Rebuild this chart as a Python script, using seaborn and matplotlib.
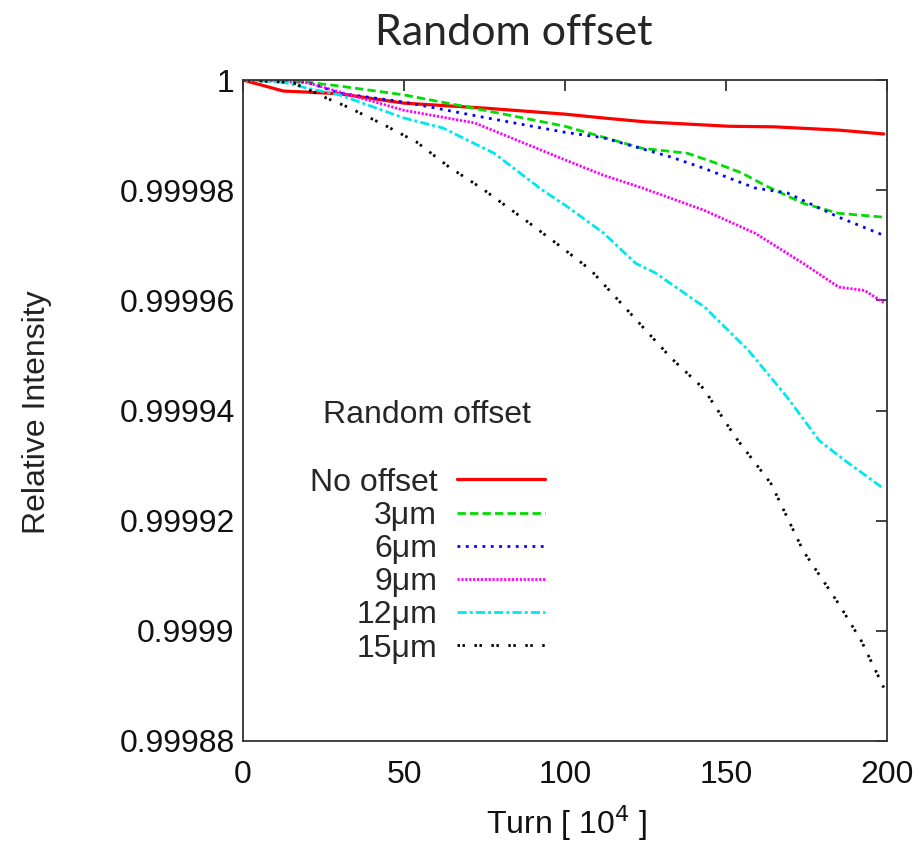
import numpy as np
import pandas as pd
import matplotlib
matplotlib.use("Agg")
import matplotlib.pyplot as plt
import seaborn as sns

# ---- data (intensity loss in units of 1e-5) ----
turn_none = [0, 12.5, 20, 30, 50, 75, 100, 112, 125, 151, 165, 185, 199]
loss_none = [0.0, 0.2, 0.22, 0.25, 0.42, 0.51, 0.62, 0.69, 0.76, 0.84, 0.85, 0.91, 0.98]

turn_3 = [0, 10, 20, 30, 50, 75, 100, 112, 124, 138, 146, 155, 162, 174, 185, 199]
loss_3 = [0.0, 0.0, 0.04, 0.11, 0.27, 0.55, 0.84, 1.04, 1.24, 1.33, 1.49, 1.69, 1.91, 2.24, 2.42, 2.49]

turn_6 = [0, 10, 20, 30, 50, 75, 100, 112, 133, 143, 159, 169, 185, 199]
loss_6 = [0.0, 0.0, 0.04, 0.24, 0.40, 0.68, 0.95, 1.05, 1.40, 1.60, 1.96, 2.05, 2.49, 2.82]

turn_9 = [0, 10, 20, 35, 50, 72, 100, 112, 124, 143, 159, 174, 185, 193, 199]
loss_9 = [0.0, 0.02, 0.05, 0.30, 0.55, 0.78, 1.45, 1.73, 1.96, 2.36, 2.78, 3.33, 3.76, 3.82, 4.04]

turn_12 = [0, 12.5, 20, 30, 50, 62, 78, 93, 100, 112, 122, 128, 143.5, 157, 169, 179, 187, 199]
loss_12 = [0.0, 0.04, 0.15, 0.27, 0.69, 0.87, 1.33, 2.0, 2.27, 2.78, 3.33, 3.5, 4.13, 4.91, 5.76, 6.55, 6.91, 7.42]

turn_15 = [0, 15.6, 26, 32.5, 44, 54, 64, 74, 89, 99, 108, 133, 143, 153, 164, 174, 185, 192, 199]
loss_15 = [0.0, 0.05, 0.33, 0.49, 0.82, 1.13, 1.58, 1.96, 2.6, 3.04, 3.45, 5.05, 5.6, 6.49, 7.33, 8.55, 9.51, 10.18, 11.03]

series_labels = ["No offset", "3\u03bcm", "6\u03bcm", "9\u03bcm", "12\u03bcm", "15\u03bcm"]
series_turns = [turn_none, turn_3, turn_6, turn_9, turn_12, turn_15]
series_loss = [loss_none, loss_3, loss_6, loss_9, loss_12, loss_15]

xticks = [0, 50, 100, 150, 200]
yticks = [0.99988, 0.9999, 0.99992, 0.99994, 0.99996, 0.99998, 1.0]
ytick_labels = ["0.99988", "0.9999", "0.99992", "0.99994", "0.99996", "0.99998", "1"]

# ---- build long table ----
rows = []
for lab, t, l in zip(series_labels, series_turns, series_loss):
    for ti, li in zip(t, l):
        rows.append({"turn": ti, "intensity": 1.0 - li * 1e-5, "series": lab})
df = pd.DataFrame(rows)

# ---- styling ----
sns.set_theme(style="white")
plt.rcParams["font.family"] = ["Liberation Sans", "DejaVu Sans"]

colors = ["#ff0000", "#00dd00", "#0000ff", "#ff00ff", "#00e8ee", "#000000"]
palette = dict(zip(series_labels, colors))
dash_list = ["", (3, 1.5), (1, 2), (0.8, 0.6), (3.3, 1.1, 1.1, 1.1), (0.9, 0.9, 0.9, 3.4)]
dashes = dict(zip(series_labels, dash_list))

fig = plt.figure(figsize=(9.23, 8.42), dpi=100)
ax = fig.add_axes([243 / 923, 1 - 741 / 842, (887 - 243) / 923, (741 - 80) / 842])

sns.lineplot(data=df, x="turn", y="intensity", hue="series", style="series",
             hue_order=series_labels, style_order=series_labels,
             palette=palette, dashes=dashes, estimator=None, sort=True,
             linewidth=2.0, legend=False, ax=ax)

lines = ax.get_lines()[:6]
lines[0].set_linewidth(2.3)

ax.set_xlim(0, 200)
ax.set_ylim(0.99988, 1.0)
ax.set_xticks(xticks)
ax.set_xticklabels([str(v) for v in xticks])
ax.set_yticks(yticks)
ax.set_yticklabels(ytick_labels)

for s in ax.spines.values():
    s.set_color("#333333")
    s.set_linewidth(1.3)
    s.set_visible(True)

ax.tick_params(axis="both", which="major", direction="in", length=8, width=1.3,
               color="#333333", top=True, right=True, labelsize=23,
               labelcolor="#111111")
ax.tick_params(axis="y", pad=6)
ax.tick_params(axis="x", pad=14)

ax.set_xlabel("Turn [ 10$^{4}$ ]", fontsize=23, color="#111111")
ax.set_ylabel("Relative Intensity", fontsize=23, color="#222222")
ax.xaxis.set_label_coords((567 - 243) / 644, (741 - 803) / 661)
ax.yaxis.set_label_coords((52 - 243) / 644, (741 - 412) / 661)

leg = ax.legend(lines, series_labels, title="Random offset\n", markerfirst=False,
                frameon=False, loc="upper right", bbox_to_anchor=(0.504, 0.55),
                fontsize=23, title_fontsize=23, handlelength=2.75,
                handletextpad=0.63, labelspacing=0.1, borderpad=0.2)

fig.text(514 / 923, 1 - 33 / 842, "Random offset", ha="center", va="center",
         fontsize=31, family=["Lato", "DejaVu Sans"])

fig.savefig("out.png", dpi=100)
